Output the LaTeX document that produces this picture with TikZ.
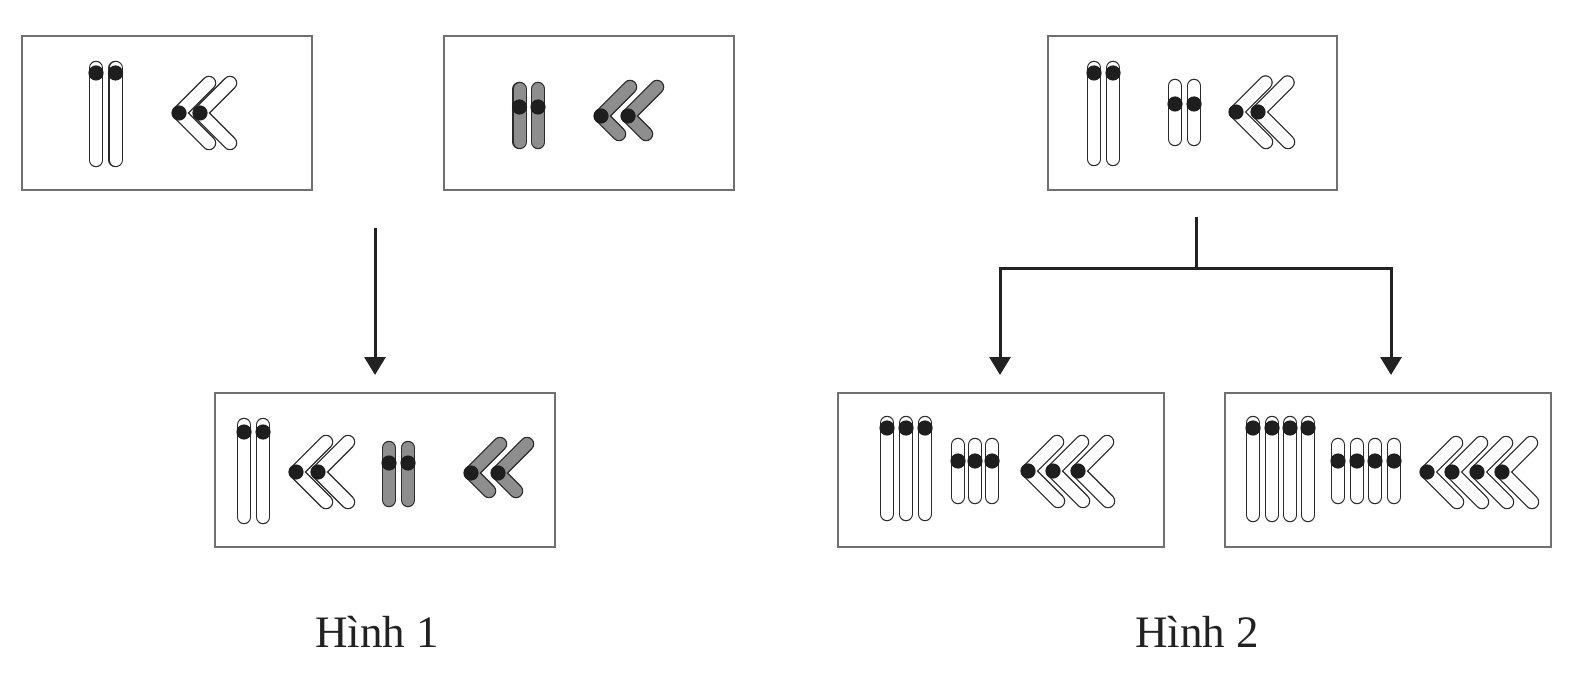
\documentclass[tikz,border=0pt]{standalone}
\usepackage{fontspec}
\newfontfamily\capfont{Liberation Serif}
\usetikzlibrary{arrows.meta}
\definecolor{outl}{HTML}{2A2A2A}
\definecolor{cenc}{HTML}{1E1E1E}
\definecolor{grayc}{HTML}{8E8E8E}
\definecolor{boxc}{HTML}{707070}
\definecolor{txtc}{HTML}{222222}
% rod chromosome: x, top, bottom, centromere y, fill
\newcommand{\chrod}[5]{%
  \draw[line width=14.5pt,line cap=round,draw=outl] (#1,#2+7) -- (#1,#3-7);
  \draw[line width=12pt,line cap=round,draw=#5] (#1,#2+7) -- (#1,#3-7);
  \fill[cenc] (#1,#4) circle (7.6);
}
% V chromosome: vertex x, vertex y, upper arm dx, lower arm dx, fill
\newcommand{\chvee}[5]{%
  \draw[line width=14.5pt,line cap=round,line join=round,draw=outl] (#1+#3,#2-#3) -- (#1,#2) -- (#1+#4,#2+#4);
  \draw[line width=12pt,line cap=round,line join=round,draw=#5] (#1+#3,#2-#3) -- (#1,#2) -- (#1+#4,#2+#4);
  \fill[cenc] (#1,#2) circle (7.6);
}
\tikzset{
  panel/.style={draw=boxc,line width=2pt,rectangle,inner sep=0pt},
  arr/.style={draw=txtc,line width=3pt,-{Triangle[width=21pt,length=18pt]}},
  stem/.style={draw=txtc,line width=3pt},
  caption/.style={font=\capfont\fontsize{45}{54}\selectfont,text=txtc,anchor=base,inner sep=0pt}
}
\begin{document}
\begin{tikzpicture}[x=1pt,y=-1pt]
\useasboundingbox (0,0) rectangle (1573,692);
\fill[white] (0,0) rectangle (1573,692);
% panels
\node[panel,minimum width=290pt,minimum height=154pt] (A) at (167,113) {};
\node[panel,minimum width=290pt,minimum height=154pt] (B) at (589,113) {};
\node[panel,minimum width=340pt,minimum height=154pt] (C) at (385,470) {};
\node[panel,minimum width=289pt,minimum height=154pt] (D) at (1192.5,113) {};
\node[panel,minimum width=326pt,minimum height=154pt] (E) at (1001,470) {};
\node[panel,minimum width=326pt,minimum height=154pt] (F) at (1388,470) {};
% panel A
\chrod{96}{61}{167}{73}{white}
\chrod{115.5}{61}{167}{73}{white}
\chvee{179}{113}{30}{30}{white}
\chvee{200}{113}{30}{30}{white}
% panel B
\chrod{519.5}{82}{149}{107}{grayc}
\chrod{538}{82}{149}{107}{grayc}
\chvee{601}{116}{29}{18}{grayc}
\chvee{628}{116}{29}{18}{grayc}
% panel C
\chrod{244}{418}{524}{432}{white}
\chrod{263}{418}{524}{432}{white}
\chvee{296}{472}{30}{30}{white}
\chvee{318}{472}{30}{30}{white}
\chrod{389}{441}{507}{463}{grayc}
\chrod{408}{441}{507}{463}{grayc}
\chvee{471}{473}{29}{18}{grayc}
\chvee{498}{473}{29}{18}{grayc}
% panel D
\chrod{1094}{61}{166}{73}{white}
\chrod{1113}{61}{166}{73}{white}
\chrod{1175}{79}{146}{104}{white}
\chrod{1194}{79}{146}{104}{white}
\chvee{1236}{112}{29.5}{30}{white}
\chvee{1258}{112}{29.5}{30}{white}
% panel E
\chrod{887}{416}{521}{428}{white}
\chrod{906}{416}{521}{428}{white}
\chrod{925}{416}{521}{428}{white}
\chrod{958}{438}{504}{461}{white}
\chrod{975}{438}{504}{461}{white}
\chrod{992}{438}{504}{461}{white}
\chvee{1028}{471}{29}{30}{white}
\chvee{1053}{471}{29}{30}{white}
\chvee{1078}{471}{29}{30}{white}
% panel F
\chrod{1253}{416}{522}{428}{white}
\chrod{1272}{416}{522}{428}{white}
\chrod{1290}{416}{522}{428}{white}
\chrod{1308}{416}{522}{428}{white}
\chrod{1338}{438}{504}{461}{white}
\chrod{1357}{438}{504}{461}{white}
\chrod{1375}{438}{504}{461}{white}
\chrod{1394}{438}{504}{461}{white}
\chvee{1427}{472}{29}{30}{white}
\chvee{1452}{472}{29}{30}{white}
\chvee{1477}{472}{29}{30}{white}
\chvee{1502}{472}{29}{30}{white}
% connectors
\coordinate (h1s) at (375,228);
\coordinate (h1e) at (375,375);
\draw[arr] (h1s) -- (h1e);
\coordinate (h2s) at (1196,217);
\coordinate (h2j) at (1196,269);
\coordinate (h2l) at (1000,375);
\coordinate (h2r) at (1391,375);
\draw[stem] (h2s) -- (h2j);
\draw[arr] (h2j) -| (h2l);
\draw[arr] (h2j) -| (h2r);
% captions
\node[caption] (cap1) at (377,647) {Hình 1};
\node[caption] (cap2) at (1197,647) {Hình 2};
\end{tikzpicture}
\end{document}
